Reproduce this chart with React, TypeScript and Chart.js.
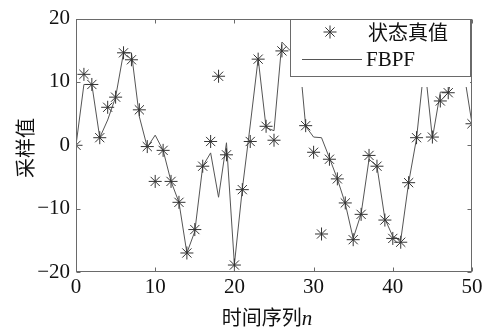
import React, { useEffect, useRef } from "react";
import { Chart, registerables } from "chart.js";

Chart.register(...registerables);

// time index n
const timeSteps = [
  0, 1, 2, 3, 4, 5, 6, 7, 8, 9, 10, 11, 12, 13, 14, 15, 16, 17, 18, 19, 20,
  21, 22, 23, 24, 25, 26, 27, 28, 29, 30, 31, 32, 33, 34, 35, 36, 37, 38, 39,
  40, 41, 42, 43, 44, 45, 46, 47, 48, 49, 50,
];

// 状态真值 (true state, '*' markers); null = hidden behind the legend
const trueState: (number | null)[] = [
  0, 11.2, 9.6, 1.2, 6.0, 7.6, 14.6, 13.5, 5.6, -0.2, -5.7, -0.8, -5.7, -9.0,
  -17.0, -13.3, -3.3, 0.6, 10.9, -1.5, -18.9, -7.0, 0.6, 13.6, 3.0, 0.8, 14.9,
  null, null, 3.1, -1.1, -14.0, -2.2, -5.3, -9.1, -14.9, -10.9, -1.6, -3.3,
  -11.8, -14.7, -15.3, -5.9, 1.2, null, 1.3, 7.0, 8.3, null, null, 3.4,
];

// FBPF estimate (solid line)
const fbpfEstimate: number[] = [
  0, 9.6, 9.6, 1.2, 4.0, 7.6, 14.6, 14.6, 4.5, -0.3, 1.6, -0.8, -5.7, -9.0,
  -17.0, -13.6, -3.3, -1.2, -8.2, 0.4, -18.8, -6.9, 3.2, 13.7, 2.8, 2.3, 16.3,
  15.0, 16.7, 3.0, 1.3, 1.2, -2.0, -5.3, -9.2, -14.7, -10.8, -2.2, -3.3, -11.6,
  -14.4, -15.0, -5.9, 1.1, 13.0, 1.1, 8.4, 8.4, 13.0, 11.3, 3.4,
];

const xTicks = [0, 10, 20, 30, 40, 50];
const yTicks = [-20, -10, 0, 10, 20];

const legendLabels = ["状态真值", "FBPF"];
const xTitle = "时间序列";
const xTitleVar = "n";
const yTitle = "采样值";

const SERIF = "'Liberation Serif', 'DejaVu Serif', serif";
const CJK = "'Noto Sans CJK SC', sans-serif";

const fmt = (v: number) => (v < 0 ? "\u2212" + Math.abs(v) : String(v));

const framePlugin = {
  id: "matlabFrame",
  afterDraw(chart: any) {
    const { ctx, chartArea: a, scales } = chart;
    const xs = scales.x;
    const ys = scales.y;
    ctx.save();
    // axes box
    ctx.strokeStyle = "#6a6a6a";
    ctx.lineWidth = 1;
    const L = Math.round(a.left) + 0.5;
    const R = Math.round(a.right) - 0.5;
    const T = Math.round(a.top) + 0.5;
    const B = Math.round(a.bottom) - 0.5;
    ctx.strokeRect(L, T, R - L, B - T);
    // inward ticks
    ctx.beginPath();
    xTicks.forEach((v) => {
      const px = Math.round(xs.getPixelForValue(v)) + 0.5;
      ctx.moveTo(px, B);
      ctx.lineTo(px, B - 4);
      ctx.moveTo(px, T);
      ctx.lineTo(px, T + 4);
    });
    yTicks.forEach((v) => {
      const py = Math.round(ys.getPixelForValue(v)) + 0.5;
      ctx.moveTo(L, py);
      ctx.lineTo(L + 4, py);
      ctx.moveTo(R, py);
      ctx.lineTo(R - 4, py);
    });
    ctx.stroke();

    // legend (opaque, upper right)
    const lx0 = 290;
    const lx1 = 470;
    const ly0 = T;
    const ly1 = 76.5;
    ctx.fillStyle = "#ffffff";
    ctx.fillRect(lx0, ly0, lx1 - lx0, 87 - ly0);
    ctx.strokeStyle = "#6a6a6a";
    ctx.strokeRect(lx0 + 0.5, ly0, lx1 - lx0, ly1 - ly0);

    // star symbol
    const sx = 330;
    const sy = 32;
    const r = 6.5;
    ctx.strokeStyle = "#333333";
    ctx.beginPath();
    ctx.moveTo(sx - r, sy);
    ctx.lineTo(sx + r, sy);
    ctx.moveTo(sx, sy - r);
    ctx.lineTo(sx, sy + r);
    const d = r * Math.SQRT1_2;
    ctx.moveTo(sx - d, sy - d);
    ctx.lineTo(sx + d, sy + d);
    ctx.moveTo(sx - d, sy + d);
    ctx.lineTo(sx + d, sy - d);
    ctx.stroke();
    // line symbol
    ctx.strokeStyle = "#555555";
    ctx.beginPath();
    ctx.moveTo(302, 59.5);
    ctx.lineTo(362, 59.5);
    ctx.stroke();

    ctx.fillStyle = "#111111";
    ctx.textBaseline = "middle";
    ctx.textAlign = "left";
    ctx.font = `20px ${CJK}`;
    ctx.fillText(legendLabels[0], 368, 32);
    ctx.font = `21px ${SERIF}`;
    ctx.fillText(legendLabels[1], 366, 60);

    // x axis title with italic variable
    ctx.font = `20px ${CJK}`;
    ctx.textBaseline = "alphabetic";
    const w1 = ctx.measureText(xTitle).width;
    ctx.font = `italic 21px ${SERIF}`;
    const w2 = ctx.measureText(xTitleVar).width;
    const startX = 267 - (w1 + w2) / 2;
    ctx.font = `20px ${CJK}`;
    ctx.fillText(xTitle, startX, 325);
    ctx.font = `italic 21px ${SERIF}`;
    ctx.fillText(xTitleVar, startX + w1, 325);

    // y axis title
    ctx.save();
    ctx.translate(25, 148);
    ctx.rotate(-Math.PI / 2);
    ctx.font = `20px ${CJK}`;
    ctx.textAlign = "center";
    ctx.textBaseline = "middle";
    ctx.fillText(yTitle, 0, 0);
    ctx.restore();

    ctx.restore();
  },
};

export default function App() {
  const canvasRef = useRef<HTMLCanvasElement | null>(null);

  useEffect(() => {
    document.body.style.margin = "0";
    const canvas = canvasRef.current;
    if (!canvas) return;
    const chart = new Chart(canvas, {
      type: "line",
      data: {
        datasets: [
          {
            label: legendLabels[0],
            data: timeSteps.map((n, i) => ({ x: n, y: trueState[i] })) as any,
            showLine: false,
            pointStyle: "star",
            pointRadius: 6.5,
            pointBorderWidth: 1,
            pointBorderColor: "#333333",
            pointBackgroundColor: "#333333",
            borderColor: "#333333",
          },
          {
            label: legendLabels[1],
            data: timeSteps.map((n, i) => ({ x: n, y: fbpfEstimate[i] })),
            borderColor: "#555555",
            borderWidth: 1,
            pointRadius: 0,
            tension: 0,
            fill: false,
          },
        ],
      },
      options: {
        responsive: false,
        animation: false,
        layout: { padding: { left: 0, right: 14, top: 14, bottom: 0 } },
        plugins: {
          legend: { display: false },
          tooltip: { enabled: false },
        },
        scales: {
          x: {
            type: "linear",
            min: 0,
            max: 50,
            grid: { display: false, drawTicks: false },
            border: { display: false },
            afterFit: (s: any) => {
              s.height = 61;
            },
            afterBuildTicks: (s: any) => {
              s.ticks = xTicks.map((v) => ({ value: v }));
            },
            ticks: {
              color: "#111111",
              font: { family: SERIF, size: 21 },
              padding: 3,
              maxRotation: 0,
              autoSkip: false,
              callback: (v: any) => fmt(Number(v)),
            },
          },
          y: {
            type: "linear",
            min: -20,
            max: 20,
            grid: { display: false, drawTicks: false },
            border: { display: false },
            afterFit: (s: any) => {
              s.width = 76;
            },
            afterBuildTicks: (s: any) => {
              s.ticks = yTicks.map((v) => ({ value: v }));
            },
            ticks: {
              color: "#111111",
              font: { family: SERIF, size: 21 },
              padding: 6,
              autoSkip: false,
              callback: (v: any) => fmt(Number(v)),
            },
          },
        },
      },
      plugins: [framePlugin],
    });
    return () => chart.destroy();
  }, []);

  return (
    <div style={{ width: 486, height: 333, background: "#ffffff" }}>
      <canvas ref={canvasRef} width={486} height={333} />
    </div>
  );
}
